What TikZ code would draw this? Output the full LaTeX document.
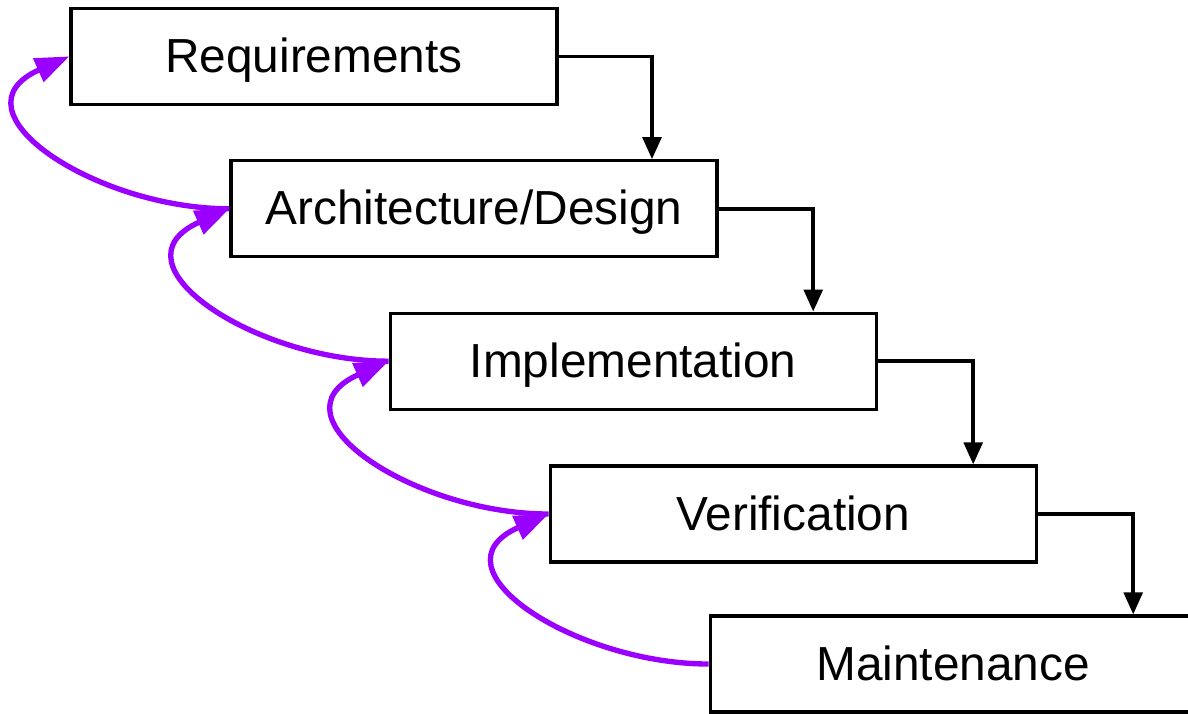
\documentclass[tikz,border=0pt]{standalone}
\usepackage{fontspec}
\setmainfont{Liberation Sans}
\usetikzlibrary{arrows.meta}
\definecolor{backflow}{HTML}{9900FF}
\begin{document}
\begin{tikzpicture}[
    phase/.style={draw, line width=2.4pt, minimum width=12.15cm,
      minimum height=2.4cm, inner sep=0pt, text height=0.9cm, text depth=0.1cm,
      font=\fontsize{34}{40}\selectfont},
    flow/.style={line width=2.5pt, -{Triangle[length=0.55cm, width=0.47cm]}},
    backstep/.style={line width=3.8pt, color=backflow,
      -{Triangle[length=0.85cm, width=0.62cm]}}
  ]
  \useasboundingbox (0, 0) rectangle (29.7, -17.85);

  \node[phase] (req) at (7.85, -1.41){
    Requirements
  };

  \node[phase] (arch) at (11.85, -5.22){
    Architecture/Design
  };

  \node[phase] (impl) at (15.83, -9.03){
    Implementation
  };

  \node[phase] (verif) at (19.83, -12.85){
    Verification
  };

  \node[phase] (maint) at (23.83, -16.6){
    Maintenance
  };

  \draw[flow] (req.east) -| ([xshift=4.45cm]arch.north);
  \draw[flow] (arch.east) -| ([xshift=4.5cm]impl.north);
  \draw[flow] (impl.east) -| ([xshift=4.5cm]verif.north);
  \draw[flow] (verif.east) -| ([xshift=4.5cm]maint.north);

  %% back steps to the phase above
  \draw[backstep] (arch.west) to[out=180, in=204, looseness=1.55] (req.west);
  \draw[backstep] (impl.west) to[out=180, in=204, looseness=1.55] (arch.west);
  \draw[backstep] (verif.west) to[out=180, in=204, looseness=1.55] (impl.west);
  \draw[backstep] (maint.west) to[out=180, in=204, looseness=1.55] (verif.west);
\end{tikzpicture}
\end{document}
